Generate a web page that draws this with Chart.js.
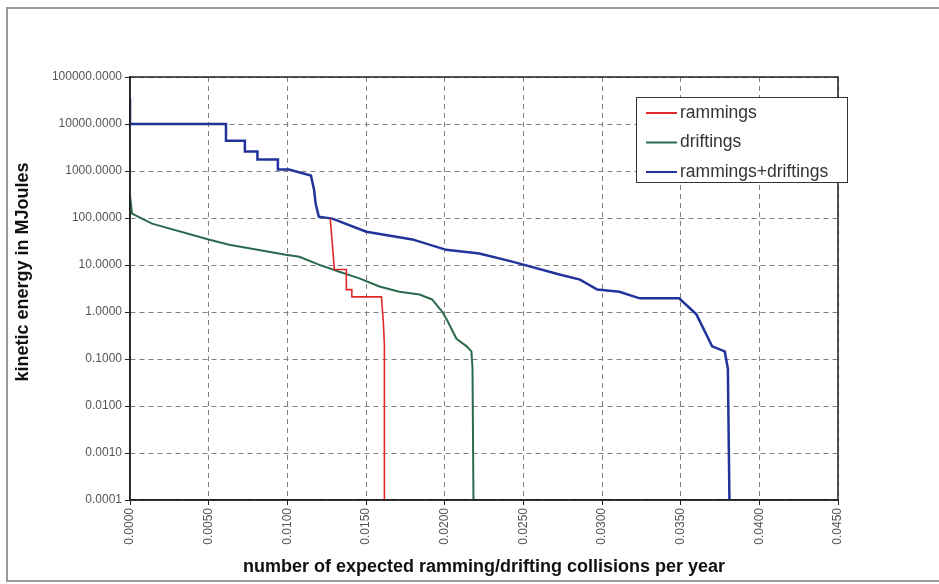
<!DOCTYPE html>
<html>
<head>
<meta charset="utf-8">
<script src="https://cdn.jsdelivr.net/npm/chart.js@4/dist/chart.umd.min.js"></script>
<style>
  html, body { margin: 0; padding: 0; background: #fff; }
  #wrap { width: 939px; height: 584px; }
</style>
</head>
<body>
<div id="wrap"><canvas id="chart" width="939" height="584"></canvas></div>
<script>
// data (x = collisions per year, y = MJ)
const rammingsX = [0.01273, 0.01299, 0.01375, 0.01375, 0.0141, 0.0141, 0.01598, 0.0161, 0.01617, 0.01617];
const rammingsY = [97, 8, 8, 3.0, 3.0, 2.1, 2.1, 0.63, 0.2, 0.0001];

const driftingsX = [0, 0.00013, 0.0014, 0.0050, 0.0063, 0.0099, 0.01076, 0.0120, 0.0133, 0.01458, 0.01585, 0.01712, 0.0184, 0.0192, 0.01986, 0.0202, 0.02075, 0.0214, 0.0217, 0.02177, 0.02183];
const driftingsY = [300, 124, 76, 35, 27, 16.6, 15, 10.2, 7.2, 5.2, 3.5, 2.7, 2.35, 1.85, 1.0, 0.63, 0.27, 0.186, 0.145, 0.063, 0.0001];

const totalX = [0, 0, 0.0061, 0.0061, 0.0073, 0.0073, 0.0081, 0.0081, 0.0094, 0.0094, 0.0101, 0.0115, 0.0117, 0.0118, 0.0120, 0.01286, 0.01502, 0.01795, 0.0201, 0.0222, 0.0243, 0.0273, 0.0286, 0.0297, 0.0311, 0.0324, 0.0349, 0.0360, 0.0370, 0.0378, 0.0380, 0.0381];
const totalY = [34000, 10000, 10000, 4400, 4400, 2600, 2600, 1750, 1750, 1070, 1070, 800, 400, 200, 107, 97, 51, 35, 21, 17.5, 11.8, 6.3, 4.9, 3.0, 2.7, 1.95, 1.95, 0.89, 0.186, 0.145, 0.063, 0.0001];

const yTickValues = [0.0001, 0.001, 0.01, 0.1, 1, 10, 100, 1000, 10000, 100000];
const xTickValues = [0, 0.005, 0.010, 0.015, 0.020, 0.025, 0.030, 0.035, 0.040, 0.045];

const seriesNames = ["rammings", "driftings", "rammings+driftings"];
const seriesColors = ["#e02828", "#2b6b4c", "#22349a"];
const yTitle = "kinetic energy in MJoules";
const xTitle = "number of expected ramming/drifting collisions per year";

const FONT = "'Liberation Sans', Arial, sans-serif";

function toPoints(xs, ys) {
  return xs.map((x, i) => ({ x: x, y: ys[i] }));
}

// frame, plot border, y title and legend box
const decor = {
  id: "decor",
  beforeDraw(chart) {
    const c = chart.ctx;
    c.save();
    c.fillStyle = "#fff";
    c.fillRect(0, 0, chart.width, chart.height);
    c.strokeStyle = "#9a9a9a";
    c.lineWidth = 2;
    c.strokeRect(7, 8, 960, 573);
    c.restore();
  },
  afterDraw(chart) {
    const c = chart.ctx;
    const a = chart.chartArea;
    c.save();
    c.strokeStyle = "#222";
    c.lineWidth = 1.5;
    c.strokeRect(a.left, a.top, a.right - a.left, a.bottom - a.top);

    // y axis title
    c.save();
    c.translate(23, 272);
    c.rotate(-Math.PI / 2);
    c.font = "bold 18px " + FONT;
    c.fillStyle = "#111";
    c.textAlign = "center";
    c.textBaseline = "middle";
    c.fillText(yTitle, 0, 0);
    c.restore();

    // legend
    const lx = 636, ly = 97, lw = 211, lh = 85;
    c.fillStyle = "#fff";
    c.fillRect(lx, ly, lw, lh);
    c.strokeStyle = "#333";
    c.lineWidth = 1;
    c.strokeRect(lx + 0.5, ly + 0.5, lw, lh);
    c.font = "17.5px " + FONT;
    c.textBaseline = "middle";
    seriesNames.forEach((name, i) => {
      const y = 113 + i * 29.5;
      c.strokeStyle = seriesColors[i];
      c.lineWidth = 2;
      c.beginPath();
      c.moveTo(646, y);
      c.lineTo(677, y);
      c.stroke();
      c.fillStyle = "#333";
      c.fillText(name, 680, y);
    });
    c.restore();
  }
};

const gridStyle = {
  color: "#808080",
  lineWidth: 1,
  tickLength: 5,
  tickColor: "#222",
  tickBorderDash: [],
  tickWidth: 1
};

new Chart(document.getElementById("chart"), {
  type: "scatter",
  data: {
    datasets: [
      { label: seriesNames[0], data: toPoints(rammingsX, rammingsY), borderColor: seriesColors[0], borderWidth: 1.6 },
      { label: seriesNames[1], data: toPoints(driftingsX, driftingsY), borderColor: seriesColors[1], borderWidth: 2 },
      { label: seriesNames[2], data: toPoints(totalX, totalY), borderColor: seriesColors[2], borderWidth: 2.5 }
    ].map(d => Object.assign(d, { showLine: true, pointRadius: 0, tension: 0, fill: false }))
  },
  options: {
    responsive: false,
    animation: false,
    layout: { padding: { left: 9, top: 77, right: 101, bottom: 3 } },
    plugins: { legend: { display: false }, tooltip: { enabled: false } },
    scales: {
      x: {
        type: "linear",
        min: 0,
        max: 0.045,
        afterBuildTicks: s => { s.ticks = xTickValues.map(v => ({ value: v })); },
        afterFit: s => { s.height = 81; },
        ticks: {
          minRotation: 90,
          maxRotation: 90,
          padding: 3,
          color: "#555",
          font: { family: FONT, size: 12 },
          callback: v => Number(v).toFixed(4)
        },
        grid: gridStyle,
        border: { display: true, color: "#222", width: 1.5, dash: [5, 4] },
        title: {
          display: true,
          text: xTitle,
          color: "#111",
          font: { family: FONT, size: 18, weight: "bold" },
          padding: { top: 2, bottom: 3 }
        }
      },
      y: {
        type: "logarithmic",
        min: 0.0001,
        max: 100000,
        afterBuildTicks: s => { s.ticks = yTickValues.map(v => ({ value: v })); },
        afterFit: s => { s.width = 121; },
        ticks: {
          padding: 3,
          color: "#555",
          font: { family: FONT, size: 12 },
          callback: v => Number(v).toFixed(4)
        },
        grid: gridStyle,
        border: { display: true, color: "#222", width: 1.5, dash: [5, 4] },
        title: { display: false }
      }
    }
  },
  plugins: [decor]
});
</script>
</body>
</html>
